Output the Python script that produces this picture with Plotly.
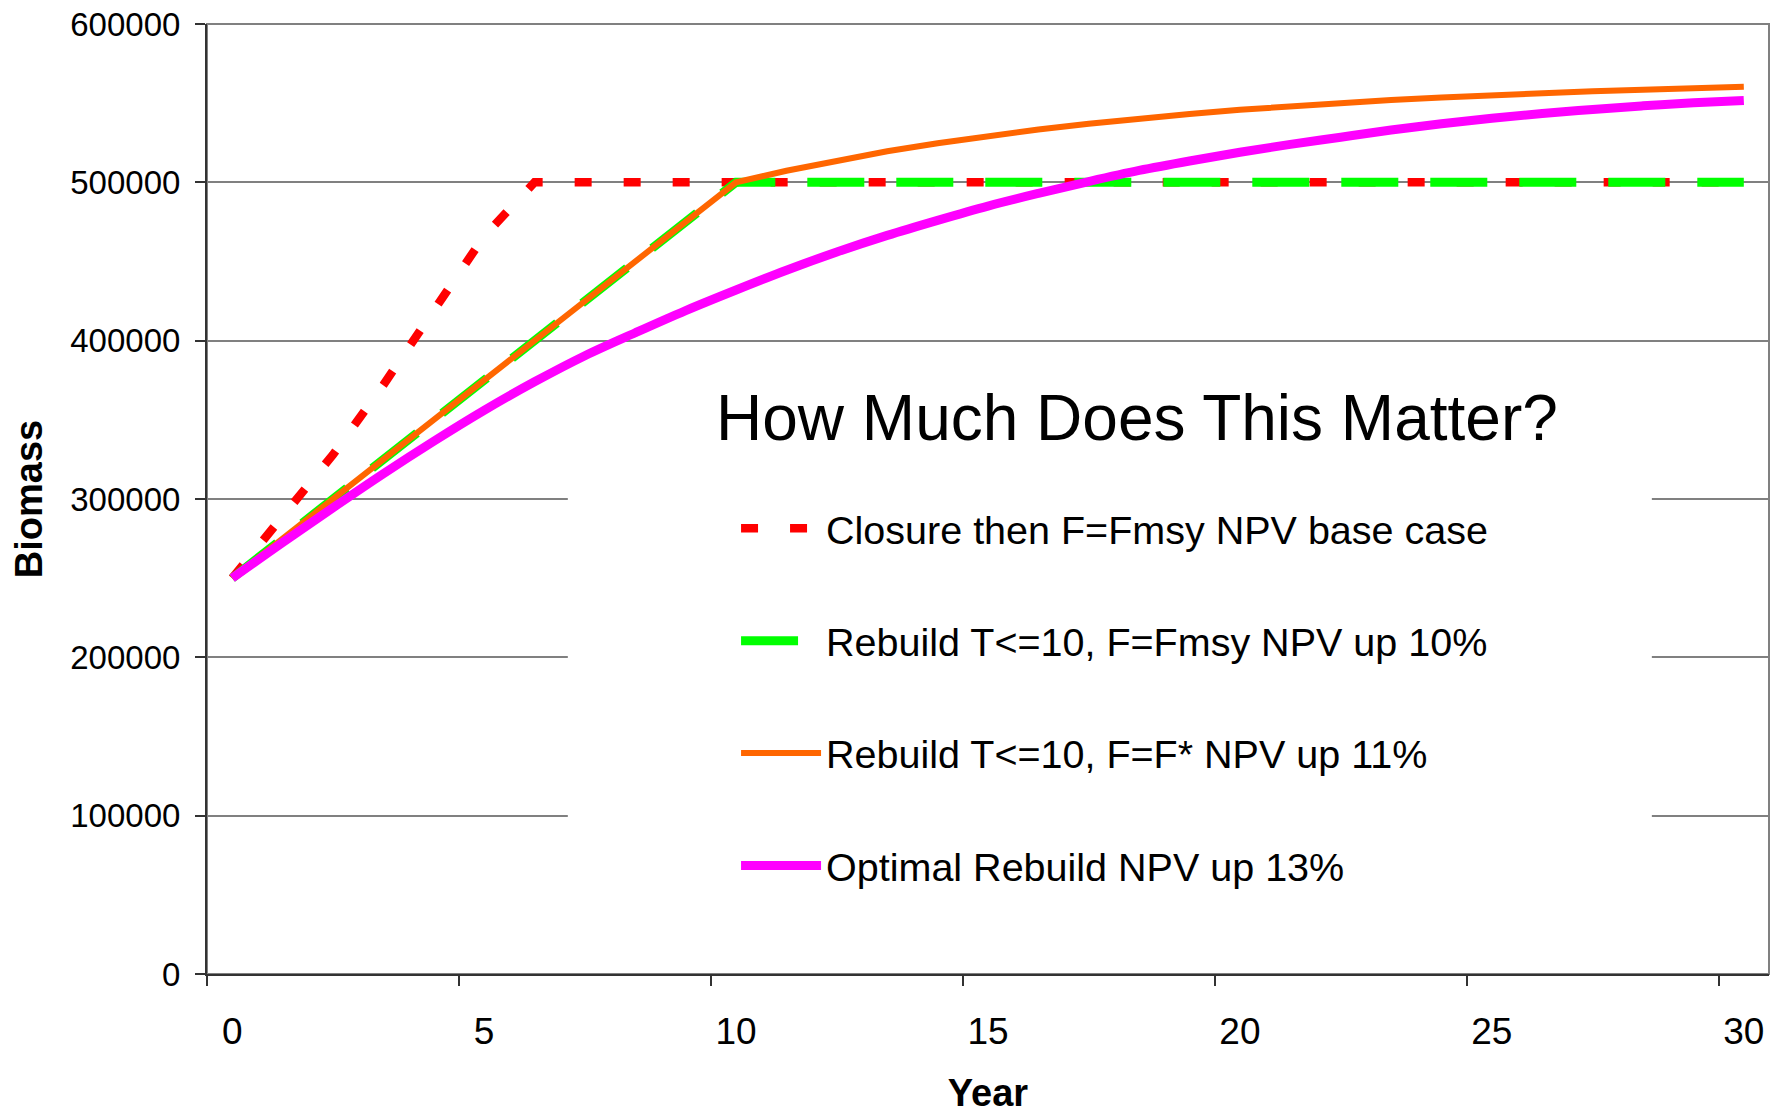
import plotly.graph_objects as go

# ---------------- data ----------------
years = [0, 1, 2, 3, 4, 5, 6, 7, 8, 9, 10, 11, 12, 13, 14, 15, 16, 17, 18, 19, 20,
         21, 22, 23, 24, 25, 26, 27, 28, 29, 30]

closure_fmsy = [250000, 288000, 328000, 372000, 420000, 466000, 500000, 500000, 500000,
                500000, 500000, 500000, 500000, 500000, 500000, 500000, 500000, 500000,
                500000, 500000, 500000, 500000, 500000, 500000, 500000, 500000, 500000,
                500000, 500000, 500000, 500000]

rebuild_fmsy = [250000, 275000, 300000, 325000, 350000, 375000, 400000, 425000, 450000,
                475000, 500000, 500000, 500000, 500000, 500000, 500000, 500000, 500000,
                500000, 500000, 500000, 500000, 500000, 500000, 500000, 500000, 500000,
                500000, 500000, 500000, 500000]

rebuild_fstar = [250000, 275000, 300000, 325000, 350000, 375000, 400000, 425000, 450000,
                 475000, 500000, 507300, 513800, 519600, 524700, 529300, 533400, 537000,
                 540300, 543200, 545800, 548100, 550100, 552000, 553600, 555100, 556400,
                 557500, 558500, 559500, 560300]

optimal = [250000, 272500, 294500, 316000, 336500, 356000, 374000, 390500, 405000,
           419000, 432000, 444500, 456000, 466500, 476000, 485000, 493000, 500500,
           507500, 513500, 519000, 524000, 528500, 533000, 537000, 540500, 543500,
           546000, 548300, 550200, 551700]

series_names = [
    "Closure then F=Fmsy NPV base case",
    "Rebuild T<=10, F=Fmsy NPV up 10%",
    "Rebuild T<=10, F=F* NPV up 11%",
    "Optimal Rebuild NPV up 13%",
]

x_tick_values = [0, 5, 10, 15, 20, 25, 30]
x_tick_labels = ["0", "5", "10", "15", "20", "25", "30"]
x_boundary_ticks = [-0.5, 4.5, 9.5, 14.5, 19.5, 24.5, 29.5]

y_tick_values = [0, 100000, 200000, 300000, 400000, 500000, 600000]

legend_title = "How Much Does This Matter?"

# ---------------- figure ----------------
FONT = "Liberation Sans, Arial, sans-serif"

fig = go.Figure()

styles = [
    dict(color="#FF0000", width=8.5, dash="17px,32px", shape="linear"),
    dict(color="#00FF00", width=9, dash="57px,32px", shape="linear"),
    dict(color="#FF6600", width=6, dash="solid", shape="linear"),
    dict(color="#FF00FF", width=9, dash="solid", shape="spline"),
]
data_series = [closure_fmsy, rebuild_fmsy, rebuild_fstar, optimal]

for i, (name, vals, st) in enumerate(zip(series_names, data_series, styles)):
    fig.add_trace(go.Scatter(
        x=years, y=vals, mode="lines", name=name,
        legendgroup=f"g{i}",
        line=dict(color=st["color"], width=st["width"], dash=st["dash"],
                  shape=st["shape"]),
        hoverinfo="skip",
    ))

fig.update_layout(
    width=1771, height=1114, autosize=False,
    margin=dict(l=207, r=2, t=24, b=140, autoexpand=False),
    paper_bgcolor="white", plot_bgcolor="white",
    font=dict(family=FONT, color="black"),
    showlegend=True,
    legend=dict(
        x=0.3387, y=0.503, xanchor="left", yanchor="top",
        bgcolor="rgba(0,0,0,0)", borderwidth=0,
        font=dict(family=FONT, size=39.5, color="black"),
        tracegroupgap=58, itemwidth=80,
        traceorder="grouped",
    ),
    xaxis=dict(
        range=[-0.5, 30.5], automargin=False,
        tickmode="array", tickvals=x_tick_values, ticktext=x_tick_labels,
        ticks="", showgrid=False, zeroline=False,
        showline=True, linecolor="#333333", linewidth=2,
        tickfont=dict(family=FONT, size=37, color="black"),
        ticklabelstandoff=24, ticklabeloverflow="allow",
        minor=dict(tickmode="array", tickvals=x_boundary_ticks, ticks="outside",
                   ticklen=10, tickcolor="#333333", tickwidth=1.5, showgrid=False),
        title=dict(text="Year", font=dict(family=FONT, size=38, weight="bold"),
                   standoff=41),
    ),
    yaxis=dict(
        range=[0, 600000], automargin=False,
        tickmode="array", tickvals=y_tick_values, tickformat="d",
        ticks="outside", ticklen=10, tickcolor="#333333", tickwidth=1.5,
        showgrid=True, gridcolor="#808080", gridwidth=1.5,
        zeroline=False, showline=True, linecolor="#333333", linewidth=2,
        tickfont=dict(family=FONT, size=33, color="black"),
        ticklabelstandoff=8, ticklabeloverflow="allow",
        title=dict(text="Biomass", font=dict(family=FONT, size=38, weight="bold"),
                   standoff=16),
    ),
    shapes=[
        # plot-area frame (grey, like the spreadsheet border)
        dict(type="rect", xref="paper", yref="paper", x0=0, x1=1, y0=0, y1=1,
             line=dict(color="#808080", width=2), fillcolor="rgba(0,0,0,0)",
             layer="below"),
        # white legend box that interrupts the gridlines (no trace passes through it)
        dict(type="rect", xref="paper", yref="paper", x0=0.231, x1=0.925,
             y0=0.09, y1=0.6, line=dict(width=0), fillcolor="white", layer="above"),
    ],
    annotations=[
        dict(text=legend_title, xref="paper", yref="paper", x=0.3246, y=0.585,
             xanchor="left", yanchor="middle", showarrow=False,
             font=dict(family=FONT, size=64, color="black")),
    ],
)

# remove the browser's default 8px body margin so the figure fills the window exactly
fig.write_html("out.html",
               config={"displayModeBar": False},
               post_script="document.body.style.margin='0';"
                           "document.body.style.overflow='hidden';")
